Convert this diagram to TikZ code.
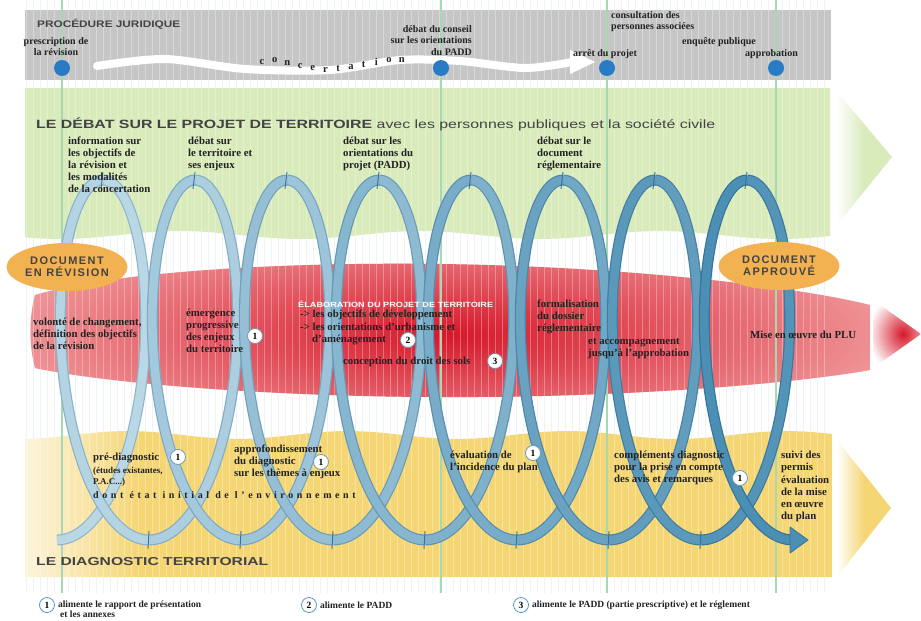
\documentclass[tikz,border=0pt]{standalone}
\usepackage{fontspec}
\setmainfont{Liberation Serif}
\setsansfont{Liberation Sans}
\newfontfamily\docfont[LetterSpace=13]{Liberation Sans}
\usepackage{graphicx}
\usepackage{xcolor}
\usepackage{tikz}
\usetikzlibrary{arrows.meta,shapes.geometric,positioning}
\definecolor{grayband}{HTML}{C6C6C6}
\definecolor{greenband}{HTML}{D9EABB}
\definecolor{yellowband}{HTML}{F5D675}
\definecolor{docorange}{HTML}{F2B252}
\definecolor{deepred}{HTML}{D6182A}
\definecolor{palered}{HTML}{F3ABAB}
\definecolor{bandlight}{HTML}{BAD7E6}
\definecolor{banddark}{HTML}{4C8FB4}
\definecolor{edgelight}{HTML}{8DB6CE}
\definecolor{edgedark}{HTML}{35739A}
\definecolor{dotblue}{HTML}{2A7BC6}
\definecolor{gridgreen}{HTML}{A6D8B2}
\definecolor{stripe}{HTML}{E4F0F1}
\definecolor{inkgray}{HTML}{222222}
\definecolor{numedge}{HTML}{6E9BB8}

\begin{document}
\begin{tikzpicture}[x=1pt,y=-1pt,line join=round,
  lbl/.style={font=\bfseries\fontsize{10.8}{12}\selectfont,text=inkgray,inner sep=0pt,align=left,anchor=north west},
  toplbl/.style={lbl,font=\bfseries\fontsize{10}{11.8}\selectfont},
  legtxt/.style={lbl,anchor=west,font=\bfseries\fontsize{9.5}{10}\selectfont},
  numcirc/.style={circle,draw=numedge,fill=white,line width=0.8pt,inner sep=0pt,minimum size=15pt,font=\bfseries\fontsize{9.5}{9.5}\selectfont},
  legnum/.style={circle,draw=dotblue!80,line width=0.8pt,inner sep=0pt,minimum size=15pt,font=\bfseries\fontsize{9.5}{9.5}\selectfont},
  docell/.style={ellipse,fill=docorange,minimum width=121pt,minimum height=48pt,inner sep=0pt,align=center,text=inkgray!85,font=\docfont\bfseries\fontsize{11}{12}\selectfont},
  stagedot/.style={circle,fill=dotblue,minimum size=16pt,inner sep=0pt},
  gridline/.style={gridgreen,line width=1.6pt},
  jointmark/.style={edgedark,line width=0.9pt}]
\useasboundingbox (0,0) rectangle (921,621);
\fill[white] (0,0) rectangle (921,621);
% fine vertical stripes
\foreach \sx in {26,33,...,826} \draw[stripe,line width=0.8pt] (\sx,0) -- (\sx,593);
% bands
\fill[grayband] (25,10) rectangle (831,80);
\fill[greenband] (25,88) -- (830,88) -- plot[domain=830:25,samples=60] (\x,{235+4*sin(1.5*\x)}) -- cycle;
\begin{scope}
\clip plot[domain=25:832,samples=60] (\x,{435+4*sin(1.64*\x+60)}) -- (832,577) -- (25,577) -- cycle;
\fill[yellowband] (140,420) rectangle (832,580);
\shade[left color=yellowband!25,right color=yellowband] (25,420) rectangle (140.5,580);
\end{scope}
\shade[left color=white,right color=greenband,middle color=greenband] (837,92) -- (892,157) -- (837,225) -- cycle;
\shade[left color=white,right color=yellowband,middle color=yellowband] (837,440) -- (891,508) -- (837,577) -- cycle;
% red spindle
\begin{scope}
\clip (35,295) .. controls (120,270) and (300,262) .. (440,264) .. controls (600,266) and (780,283) .. (870,305) -- (870,370) .. controls (780,386) and (600,398) .. (440,397) .. controls (300,397) and (120,386) .. (35,368) .. controls (29,345) and (29,318) .. (35,295) -- cycle;
\fill[palered!70!white] (20,250) rectangle (880,410);
\shade[inner color=deepred,outer color=palered] (450,335) ellipse (520 and 135);
\end{scope}
\begin{scope}
\clip (873,300) -- (921,334) -- (873,368) -- cycle;
\shade[inner color=deepred,outer color=white] (903,334) ellipse (35 and 40);
\end{scope}
\foreach \sx in {26,33,...,826} \draw[white,opacity=0.3,line width=0.7pt] (\sx,0) -- (\sx,593);
% milestones
\foreach \gx in {62,441,607,776} \draw[gridline] (\gx,0) -- (\gx,593);
\draw[white,line width=8pt,line cap=round] plot[smooth] coordinates {(97,66) (165,59) (245,69) (330,70) (400,60) (460,61) (525,68) (572,62)};
\fill[white] (570,50) -- (595,62) -- (570,74) -- cycle;
\foreach \ch/\cy [count=\i from 0] in {c/62,o/60,n/63,c/66,e/68,r/70,t/69,a/67,t/65,i/62,o/60,n/60}
  \node[font=\bfseries\fontsize{10.5}{10}\selectfont,text=inkgray,inner sep=0pt] (conc\i) at (262+12.7*\i,\cy) {\ch};
\node[stagedot] (d1) at (62,68) {};
\node[stagedot] (d2) at (441,68) {};
\node[stagedot] (d3) at (607,68) {};
\node[stagedot] (d4) at (776,68) {};
\node[anchor=west,inner sep=0pt,text=inkgray!85,font=\sffamily\bfseries\fontsize{9.5}{9}\selectfont] (procedure) at (37,24) {\resizebox{143pt}{\height}{PROCÉDURE JURIDIQUE}};
\node[toplbl,anchor=north,align=center] (prescr) at (56,37) {prescription de\\la révision};
\node[toplbl,anchor=north east,align=right] (conseil) at (472,25) {débat du conseil\\sur les orientations\\du PADD};
\node[toplbl] (consult) at (611,11) {consultation des\\personnes associées};
\node[toplbl,anchor=west] (enquete) at (682,42) {enquête publique};
\node[toplbl,anchor=west] (arret) at (573,54) {arrêt du projet};
\node[toplbl,anchor=west] (approb) at (745,54) {approbation};
% helix of the debate
\foreach \k in {0,...,15}{
  \pgfmathtruncatemacro\mix{100*\k/15}
  \pgfmathsetmacro\ta{(\k-1)*pi}
  \pgfmathsetmacro\tb{\k*pi}
  \draw[line width=11pt,edgedark!\mix!edgelight] plot[domain=\ta:\tb,samples=40,smooth] ({103+14.642*\x-64*sin(\x r)},{360-180*cos(\x r)});
  \draw[line width=8.6pt,banddark!\mix!bandlight] plot[domain=\ta:\tb,samples=40,smooth] ({103+14.642*\x-64*sin(\x r)},{360-180*cos(\x r)});
}
\fill[banddark,draw=edgedark,line width=0.8pt] (790,527) -- (808,540) -- (790,553) -- cycle;
\foreach \m in {0,...,7} \draw[jointmark] (103+92*\m,172) -- (101+92*\m,189);
\foreach \m in {0,...,6} \draw[jointmark] (149+92*\m,531) -- (148+92*\m,549);
% documents
\node[docell] (docrev) at (67,267) {DOCUMENT\\EN RÉVISION};
\node[docell] (docappr) at (779,266) {DOCUMENT\\APPROUVÉ};
% titles
\node[anchor=west,inner sep=0pt,text=inkgray!85,font=\sffamily\bfseries\fontsize{12}{12}\selectfont] (debattitle) at (36,124) {\resizebox{679pt}{\height}{LE DÉBAT SUR LE PROJET DE TERRITOIRE {\mdseries avec les personnes publiques et la société civile}}};
\node[anchor=west,inner sep=0pt,text=inkgray!85,font=\sffamily\bfseries\fontsize{11.5}{12}\selectfont] (diagtitle) at (36,562) {\resizebox{232pt}{\height}{LE DIAGNOSTIC TERRITORIAL}};
% debate texts
\node[lbl] (infos) at (68,137) {information sur\\les objectifs de\\la révision et\\les modalités\\de la concertation};
\node[lbl] (debterr) at (188,137) {débat sur\\le territoire et\\ses enjeux};
\node[lbl] (deborient) at (343,137) {débat sur les\\orientations du\\projet (PADD)};
\node[lbl] (debdoc) at (537,137) {débat sur le\\document\\réglementaire};
% project texts
\node[lbl] (volonte) at (33,318) {volonté de changement,\\définition des objectifs\\de la révision};
\node[lbl] (emergence) at (186,309) {émergence\\progressive\\des enjeux\\du territoire};
\node[anchor=west,inner sep=0pt,text=white,font=\sffamily\bfseries\fontsize{7.5}{7}\selectfont] (elab) at (298,304) {\resizebox{195pt}{\height}{ÉLABORATION DU PROJET DE TERRITOIRE}};
\node[lbl,font=\bfseries\fontsize{10.8}{12.5}\selectfont] (objectifs) at (300,310) {-> les objectifs de développement\\-> les orientations d’urbanisme et\\\hspace*{12pt}d’aménagement};
\node[lbl,anchor=west] (droit) at (343,362) {conception du droit des sols};
\node[lbl] (formal) at (537,300) {formalisation\\du dossier\\réglementaire};
\node[lbl] (accomp) at (588,338) {et accompagnement\\jusqu’à l’approbation};
\node[lbl,anchor=west] (miseoeuvre) at (750,335) {Mise en œuvre du PLU};
% diagnostic texts
\node[lbl,anchor=west] (prediag) at (93,458) {pré-diagnostic};
\node[lbl,font=\bfseries\fontsize{9}{11}\selectfont] (etudes) at (93,467) {(études existantes,\\P.A.C...)};
\node[lbl,anchor=west,font=\bfseries\fontsize{10}{10}\selectfont\addfontfeatures{LetterSpace=36}] (etatinit) at (93,495) {dont état initial de l’environnement};
\node[lbl] (approf) at (234,445) {approfondissement\\du diagnostic\\sur les thèmes à enjeux};
\node[lbl] (evalinc) at (450,451) {évaluation de\\l’incidence du plan};
\node[lbl] (complem) at (614,451) {compléments diagnostic\\pour la prise en compte\\des avis et remarques};
\node[lbl,font=\bfseries\fontsize{10.8}{12.2}\selectfont] (suivi) at (781,451) {suivi des\\permis\\évaluation\\de la mise\\en œuvre\\du plan};
% numbered marks
\node[numcirc] (n1a) at (255,336) {1};
\node[numcirc] (n2) at (408,340) {2};
\node[numcirc] (n3) at (495,361) {3};
\node[numcirc] (n1b) at (178,457) {1};
\node[numcirc] (n1c) at (321,462) {1};
\node[numcirc] (n1d) at (533,453) {1};
\node[numcirc] (n1e) at (740,478) {1};
% legend
\node[legnum] (leg1) at (47,605) {1};
\node[legtxt,right=3pt of leg1] (legtxt1) {alimente le rapport de présentation};
\node[legtxt] (legtxt1b) at (60,614.5) {et les annexes};
\node[legnum] (leg2) at (309,605) {2};
\node[legtxt,right=3pt of leg2] (legtxt2) {alimente le PADD};
\node[legnum] (leg3) at (521,605) {3};
\node[legtxt,right=3pt of leg3] (legtxt3) {alimente le PADD (partie prescriptive) et le réglement};
\end{tikzpicture}
\end{document}
